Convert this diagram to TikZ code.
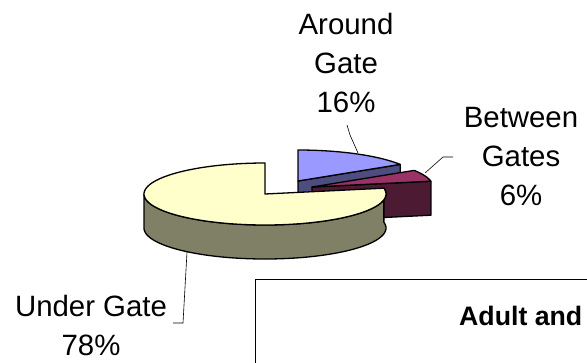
\documentclass[tikz,border=0pt]{standalone}
\usepackage{fontspec}
\setmainfont{Liberation Sans}
\definecolor{ytop}{HTML}{FFFFCC}
\definecolor{yside}{HTML}{808066}
\definecolor{btop}{HTML}{9999FF}
\definecolor{bside}{HTML}{4D4D80}
\definecolor{ptop}{HTML}{993366}
\definecolor{pside}{HTML}{4D1A33}
\tikzset{
  slice/.style={draw=black, line width=1.3bp, line join=round},
  leader/.style={draw=black, line width=0.6bp},
  lbl/.style={inner sep=0pt, align=center, font=\fontsize{29.5}{39}\selectfont},
}
\begin{document}
\begin{tikzpicture}[x=1bp,y=-1bp]
\useasboundingbox (0,0) rectangle (587,362);
\clip (0,0) rectangle (587,362);
% blue slice (Around Gate)
\filldraw[slice, fill=bside] (298,181) -- (400.2,164.4) -- (400.2,198.4) -- (298,215) -- cycle;
\filldraw[slice, fill=btop] (298,181) -- plot[domain=90:32.4,samples=40] ({298+121*cos(\x)},{181-31*sin(\x)}) -- cycle;
% purple slice (Between Gates)
\filldraw[slice, fill=pside] (312,187) -- (430.9,181.2) -- (430.9,215.2) -- (312,221) -- cycle;
\filldraw[slice, fill=ptop] (312,187) -- plot[domain=32.4:10.8,samples=20] ({312+121*cos(\x)},{187-31*sin(\x)}) -- cycle;
% yellow slice (Under Gate)
\filldraw[slice, fill=yside] plot[domain=180:370.8,samples=90] ({265+121*cos(\x)},{194-31*sin(\x)}) -- plot[domain=370.8:180,samples=90] ({265+121*cos(\x)},{228-31*sin(\x)}) -- cycle;
\filldraw[slice, fill=ytop] (265,194) -- plot[domain=90:370.8,samples=120] ({265+121*cos(\x)},{194-31*sin(\x)}) -- cycle;
% labels
\node[lbl, anchor=north] (la) at (346,13) {Around\\Gate\\16\%};
\node[lbl, anchor=north] (lb) at (521,107) {Between\\Gates\\6\%};
\node[lbl, anchor=north] (lu) at (91,295) {Under Gate\\78\%};
% leaders
\coordinate (a1) at (347,125); \coordinate (a2) at (350,135); \coordinate (a3) at (358,153);
\coordinate (b1) at (453,157); \coordinate (b2) at (443,157); \coordinate (b3) at (425,173);
\coordinate (u1) at (173,323); \coordinate (u2) at (183,323); \coordinate (u3) at (187,252);
\draw[leader] (a1) -- (a2) -- (a3);
\draw[leader] (b1) -- (b2) -- (b3);
\draw[leader] (u1) -- (u2) -- (u3);
% title box
\node[draw=black, line width=0.8bp, minimum width=360bp, minimum height=120bp, anchor=north west, inner sep=0pt] (box) at (255,279) {};
\node[anchor=base west, inner sep=0pt, font=\fontsize{26.8}{32}\selectfont\bfseries] (title) at (459,325) {Adult and};
\end{tikzpicture}
\end{document}
